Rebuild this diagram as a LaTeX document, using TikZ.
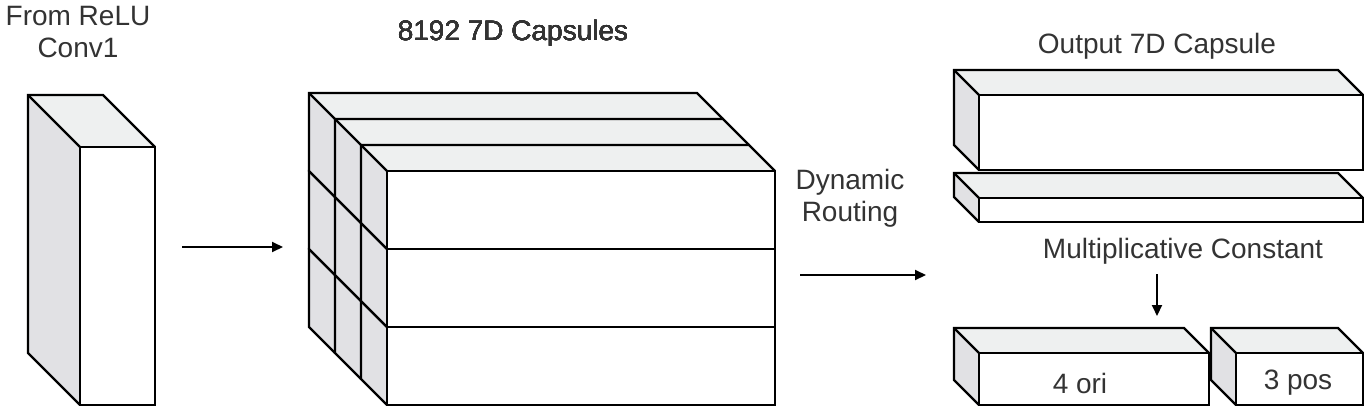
\documentclass[tikz,border=0pt]{standalone}
\usepackage{fontspec}
\setmainfont{Liberation Sans}
\usetikzlibrary{arrows.meta}
\definecolor{sidegray}{HTML}{E1E1E4}
\definecolor{topgray}{HTML}{EEF0F0}
\tikzset{%
  face/.style  = {draw, line width=2.2pt, line join=miter},%
  front/.style = {face, fill=white, rectangle, inner sep=0pt, outer sep=0pt, anchor=north west},%
  label/.style = {font=\fontsize{28}{32}\selectfont, align=center, text=black!80},%
  flow/.style  = {-{Triangle[length=11pt,width=10pt]}, line width=2pt}%
}
% name, x1, y1, x2, y2, depth
\newcommand{\capbox}[6]{%
  \fill[sidegray] ({#2},{#3}) -- ++(-#6,-#6) -- ({(#2)-(#6)},{(#5)-(#6)}) -- ({#2},{#5}) -- cycle;
  \fill[topgray] ({#2},{#3}) -- ++(-#6,-#6) -- ({(#4)-(#6)},{(#3)-(#6)}) -- ({#4},{#3}) -- cycle;
  \draw[face] ({#2},{#5}) -- ({(#2)-(#6)},{(#5)-(#6)}) -- ({(#2)-(#6)},{(#3)-(#6)}) -- ({(#4)-(#6)},{(#3)-(#6)}) -- ({#4},{#3});
  \draw[face] ({#2},{#3}) -- ++(-#6,-#6);
  \node[front, minimum width={(#4)-(#2)}, minimum height={(#5)-(#3)}] (#1) at ({#2},{#3}) {};
}
\begin{document}
\begin{tikzpicture}[x=1pt,y=-1pt]
	\useasboundingbox (0,0) rectangle (1366,407);
	% input
	\capbox{conv}{80}{147}{155}{405}{52}
	\node[label] (convtxt) at (78,32) {From ReLU\\Conv1};
	% primary capsules
	\foreach \k in {0,1,2}
		\foreach \j in {2,1,0}
			\capbox{prim\k\j}{335+26*\k}{119+26*\k+78*\j}{723+26*\k}{197+26*\k+78*\j}{26}
	\node[label] (primtxt) at (513,33) {8192 7D Capsules};
	% output capsule
	\capbox{outbig}{979}{95}{1363}{170}{25}
	\capbox{outthin}{979}{198}{1363}{222}{25}
	\capbox{ori}{979}{353}{1209}{405}{25}
	\capbox{pos}{1236}{353}{1363}{405}{25}
	\node[label] (outtxt) at (1157,46) {Output 7D Capsule};
	\node[label] (routetxt) at (850,198) {Dynamic\\Routing};
	\node[label] (multtxt) at (1183,251) {Multiplicative Constant};
	\node[label] at (1080,383) {4 ori};
	\node[label] at (1298,383) {3 pos};
	% connectors
	\coordinate (a1) at (182,247);
	\coordinate (a2) at (283,247);
	\coordinate (b1) at (800,275);
	\coordinate (b2) at (926,275);
	\coordinate (c1) at (1157,274);
	\coordinate (c2) at (1157,316);
	\draw[flow] (a1) -- (a2);
	\draw[flow] (b1) -- (b2);
	\draw[flow] (c1) -- (c2);
\end{tikzpicture}
\end{document}
